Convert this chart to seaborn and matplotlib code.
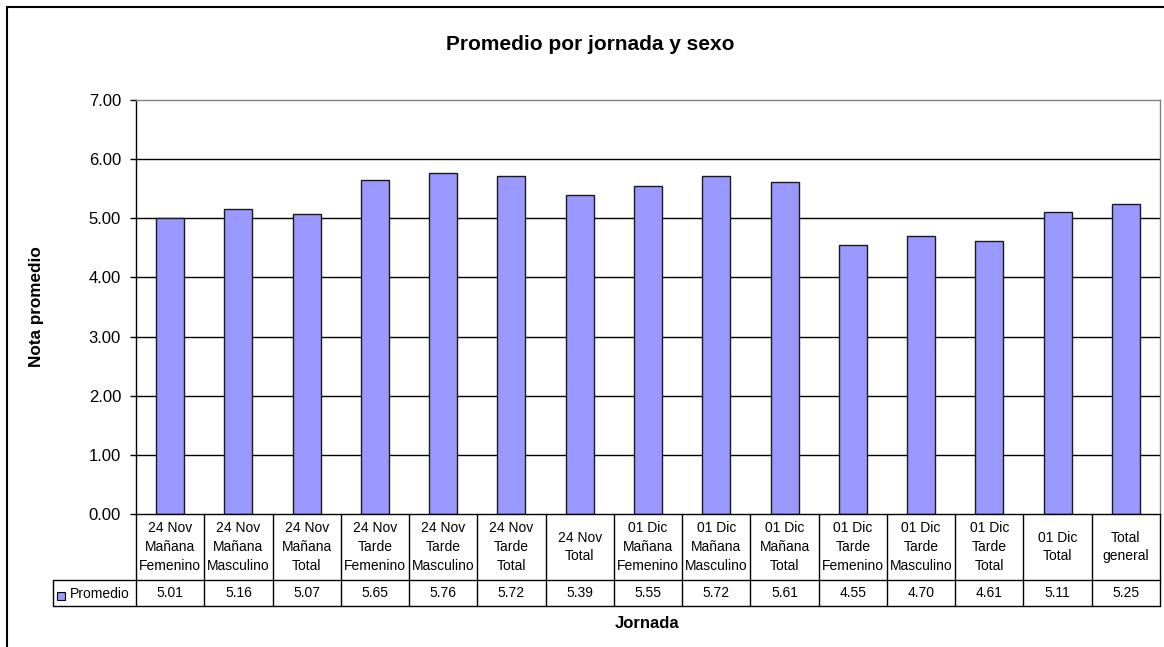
import numpy as np
import pandas as pd
import matplotlib
matplotlib.use('Agg')
import matplotlib.pyplot as plt
import seaborn as sns
from matplotlib.lines import Line2D
from matplotlib.patches import Rectangle
from matplotlib.transforms import blended_transform_factory

# Data
categorias = [
    '24 Nov\nMañana\nFemenino', '24 Nov\nMañana\nMasculino', '24 Nov\nMañana\nTotal',
    '24 Nov\nTarde\nFemenino', '24 Nov\nTarde\nMasculino', '24 Nov\nTarde\nTotal',
    '24 Nov\nTotal',
    '01 Dic\nMañana\nFemenino', '01 Dic\nMañana\nMasculino', '01 Dic\nMañana\nTotal',
    '01 Dic\nTarde\nFemenino', '01 Dic\nTarde\nMasculino', '01 Dic\nTarde\nTotal',
    '01 Dic\nTotal', 'Total\ngeneral',
]
promedio = [5.01, 5.16, 5.07, 5.65, 5.76, 5.72, 5.39, 5.55, 5.72, 5.61, 4.55, 4.70, 4.61, 5.11, 5.25]
yticks = [0, 1, 2, 3, 4, 5, 6, 7]

df = pd.DataFrame({'Jornada': categorias, 'Promedio': promedio})

sns.set_style('white')
plt.rcParams['font.family'] = ['Liberation Sans', 'DejaVu Sans']
plt.rcParams['text.color'] = 'black'
plt.rcParams['ytick.color'] = 'black'
plt.rcParams['ytick.labelcolor'] = 'black'

W, H = 1164, 647
BAR = '#9999FF'

fig = plt.figure(figsize=(W / 100, H / 100), dpi=100)
fig.patch.set_facecolor('white')

# plot area (pixel positions)
left, right, top, bottom = 136, 1160, 100, 514
ax = fig.add_axes([left / W, 1 - bottom / H, (right - left) / W, (bottom - top) / H])

for y in yticks[1:-1]:
    ax.axhline(y, color='black', lw=1, zorder=0)

sns.barplot(data=df, x='Jornada', y='Promedio', color=BAR, saturation=1,
            edgecolor='#1a1a1a', linewidth=1, width=0.41, ax=ax, zorder=2)

ax.set_xlim(-0.5, len(categorias) - 0.5)
ax.set_ylim(0, 7)
ax.set_yticks(yticks)
ax.set_yticklabels([f'{v:.2f}' for v in yticks])
ax.set_xticks([])
ax.set_xlabel('')
ax.set_ylabel('')
ax.tick_params(axis='y', length=4.3, width=1, color='black', direction='out',
               labelsize=12, labelcolor='black', pad=6.5, left=True)
for s in ['left', 'bottom']:
    ax.spines[s].set_color('black')
    ax.spines[s].set_linewidth(1)
for s in ['top', 'right']:
    ax.spines[s].set_color('#808080')
    ax.spines[s].set_linewidth(1)

# data table under the chart
tr = blended_transform_factory(ax.transData, fig.transFigure)
fy = lambda px: 1 - px / H
row1, row2 = 580, 606
n = len(categorias)
legend_left = -0.5 - (left - 53) / ((right - left) / n)

lines = [
    ([legend_left, n - 0.5], [fy(row1), fy(row1)]),
    ([legend_left, n - 0.5], [fy(row2), fy(row2)]),
    ([legend_left, legend_left], [fy(row1), fy(row2)]),
]
for i in range(n + 1):
    lines.append(([i - 0.5, i - 0.5], [fy(bottom), fy(row2)]))
for xs, ys in lines:
    fig.add_artist(Line2D(xs, ys, transform=tr, color='black', lw=1))

for i, (cat, val) in enumerate(zip(categorias, promedio)):
    fig.text(i, fy((bottom + row1) / 2), cat, transform=tr, ha='center', va='center',
             fontsize=10, linespacing=1.42)
    fig.text(i, fy((row1 + row2) / 2), f'{val:.2f}', transform=tr, ha='center', va='center',
             fontsize=10)

# legend key in the table
fig.add_artist(Rectangle((57 / W, fy(600)), 8 / W, 8 / H, transform=fig.transFigure,
                         facecolor=BAR, edgecolor='black', lw=0.8))
fig.text(70 / W, fy(594), 'Promedio', ha='left', va='center', fontsize=10)

# titles
fig.text(590 / W, fy(45), 'Promedio por jornada y sexo', ha='center', va='center',
         fontsize=15, fontweight='bold')
fig.text(37 / W, fy(307), 'Nota promedio', ha='center', va='center', rotation=90,
         fontsize=12.3, fontweight='bold')
fig.text(647 / W, fy(624), 'Jornada', ha='center', va='center', fontsize=12, fontweight='bold')

# outer chart frame (only top and left edges visible)
fig.add_artist(Line2D([7 / W, 1], [fy(7), fy(7)], transform=fig.transFigure, color='black', lw=1.5))
fig.add_artist(Line2D([7 / W, 7 / W], [fy(7), 0], transform=fig.transFigure, color='black', lw=1.5))

fig.savefig('out.png', dpi=100)
